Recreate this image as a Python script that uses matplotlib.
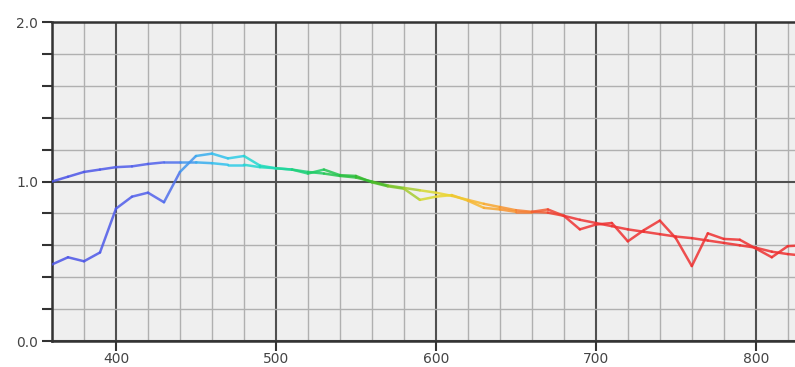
import numpy as np
import matplotlib
matplotlib.use("Agg")
import matplotlib.pyplot as plt
from matplotlib.collections import LineCollection
from matplotlib.colors import LinearSegmentedColormap, Normalize
from matplotlib.ticker import MultipleLocator, FormatStrFormatter

# wavelength (nm)
wavelength = [360, 370, 380, 390, 400, 410, 420, 430, 440, 450, 460, 470,
              480, 490, 500, 510, 520, 530, 540, 550, 560, 570, 580, 590,
              600, 610, 620, 630, 640, 650, 660, 670, 680, 690, 700, 710,
              720, 730, 740, 750, 760, 770, 780, 790, 800, 810, 820, 830]

# smooth curve
smooth = [1.00, 1.03, 1.06, 1.075, 1.09, 1.095, 1.11, 1.12, 1.12, 1.12, 1.115, 1.105,
          1.105, 1.09, 1.083, 1.075, 1.06, 1.05, 1.035, 1.025, 1.00, 0.975, 0.96, 0.945,
          0.93, 0.91, 0.885, 0.86, 0.84, 0.82, 0.81, 0.805, 0.785, 0.76, 0.74, 0.72,
          0.70, 0.685, 0.67, 0.655, 0.645, 0.63, 0.615, 0.60, 0.585, 0.56, 0.545, 0.535]

# noisy curve
noisy = [0.48, 0.525, 0.50, 0.555, 0.83, 0.905, 0.93, 0.87, 1.06, 1.16, 1.175, 1.145,
         1.16, 1.10, 1.083, 1.075, 1.05, 1.075, 1.04, 1.035, 0.995, 0.97, 0.955, 0.885,
         0.905, 0.915, 0.88, 0.835, 0.825, 0.81, 0.81, 0.825, 0.785, 0.70, 0.73, 0.74,
         0.625, 0.695, 0.755, 0.645, 0.47, 0.675, 0.64, 0.635, 0.58, 0.525, 0.595, 0.60]

# spectrum colour stops
stop_nm = [360, 430, 450, 470, 490, 510, 530, 560, 585, 600, 625, 650, 680, 830]
stop_col = ["#4a52e6", "#5262ec", "#3aa8ee", "#30c8ee", "#20dcc8", "#20d488", "#20c858",
            "#38b828", "#a8cc30", "#e6dc30", "#f8b830", "#f88c30", "#ee3434", "#ee3030"]


def spectrum_line(ax, x, y, cmap, norm):
    pts = np.column_stack([x, y]).reshape(-1, 1, 2)
    segs = np.concatenate([pts[:-1], pts[1:]], axis=1)
    mid = (np.asarray(x[:-1]) + np.asarray(x[1:])) / 2
    lc = LineCollection(segs, colors=cmap(norm(mid)), linewidths=1.8, alpha=0.85,
                        capstyle="round", joinstyle="round", zorder=3)
    ax.add_collection(lc)


def main():
    lo, hi = stop_nm[0], stop_nm[-1]
    cmap = LinearSegmentedColormap.from_list(
        "spec", [((n - lo) / (hi - lo), c) for n, c in zip(stop_nm, stop_col)])
    norm = Normalize(lo, hi)

    fig = plt.figure(figsize=(7.95, 3.67), dpi=100)
    ax = fig.add_axes([0.0654, 0.0708, 0.9356, 0.8692])
    ax.set_facecolor("#efefef")

    spectrum_line(ax, wavelength, smooth, cmap, norm)
    spectrum_line(ax, wavelength, noisy, cmap, norm)

    ax.set_xlim(360, 825)
    ax.set_ylim(0, 2.0)
    ax.xaxis.set_major_locator(MultipleLocator(100))
    ax.xaxis.set_minor_locator(MultipleLocator(20))
    ax.yaxis.set_major_locator(MultipleLocator(1.0))
    ax.yaxis.set_minor_locator(MultipleLocator(0.2))
    ax.yaxis.set_major_formatter(FormatStrFormatter("%.1f"))

    ax.grid(which="major", color="#505050", linewidth=1.5, zorder=1)
    ax.grid(which="minor", color="#b0b0b0", linewidth=1.0, zorder=1)
    ax.set_axisbelow(True)

    ax.tick_params(which="major", direction="out", length=7, width=1.5,
                   color="#333333", labelsize=10, labelcolor="#444444", pad=3)
    ax.tick_params(axis="x", which="major", pad=1)
    ax.tick_params(axis="y", which="minor", direction="out", length=7, width=1.5,
                   color="#333333")
    ax.tick_params(axis="x", which="minor", length=0)

    for side in ["left", "bottom", "top"]:
        ax.spines[side].set_color("#333333")
        ax.spines[side].set_linewidth(1.8)
    ax.spines["right"].set_visible(False)

    fig.savefig("out.png", dpi=100)


if __name__ == '__main__':
    main()
